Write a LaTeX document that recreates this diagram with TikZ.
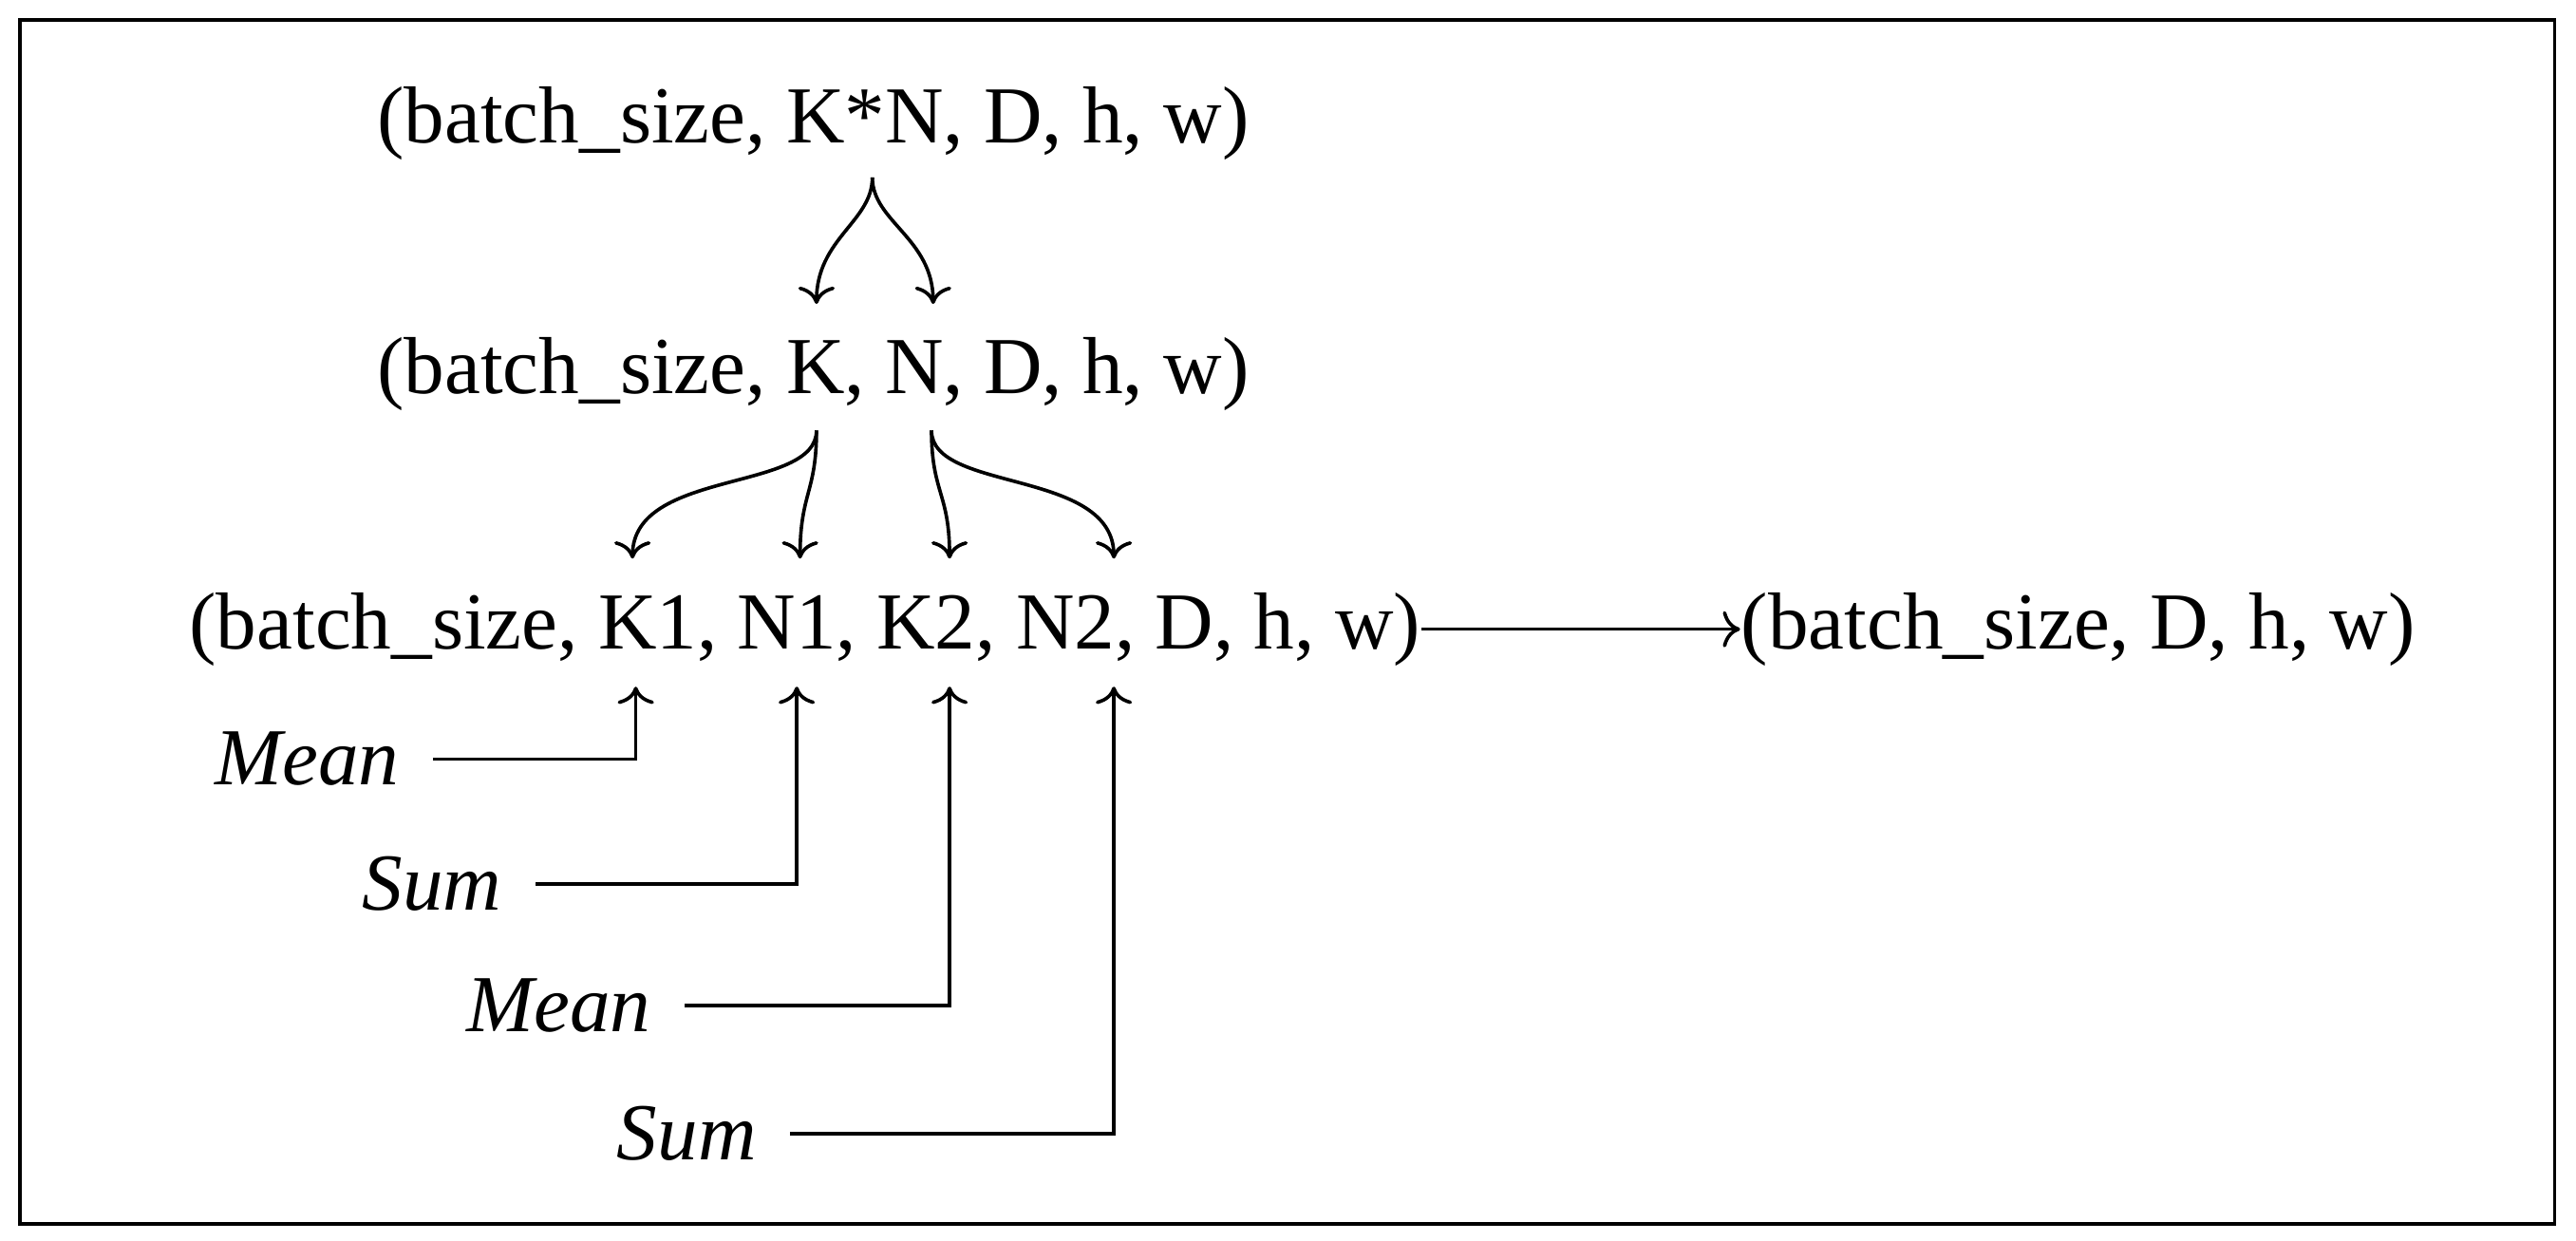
\documentclass[tikz,border=0pt]{standalone}
\usepackage{fontspec}
\setmainfont{Liberation Serif}
\usetikzlibrary{positioning, arrows.meta}
\tikzset{
  dims/.style={inner sep=0pt, font=\fontsize{14}{16}\selectfont},
  op/.style={inner sep=0pt, font=\fontsize{14}{16}\selectfont\itshape},
  arr/.style={-{To[length=3pt]}, semithick},
}
\begin{document}
\begin{tikzpicture}[x=0.01cm, y=-0.01cm]
  \draw[semithick] (12,12) rectangle (1555,745);
  \useasboundingbox (0,0) rectangle (1568,755);

  \node[dims] (KN) at (495,75) {(batch\_size, K*N, D, h, w)};
  \node[dims] (KaN) at (495,228) {(batch\_size, K, N, D, h, w)};
  \node[dims] (full) at (490,383) {(batch\_size, K1, N1, K2, N2, D, h, w)};
  \node[dims] (out) at (1265,383) {(batch\_size, D, h, w)};

  \node[op] (m1) at (187,462) {Mean};
  \node[op] (s1) at (263,538) {Sum};
  \node[op] (m2) at (340,612) {Mean};
  \node[op] (s2) at (418,690) {Sum};

  % split points
  \coordinate (top) at (531,108);
  \coordinate (K) at (497,185);
  \coordinate (N) at (568,185);
  \coordinate (Kb) at (497,262);
  \coordinate (Nb) at (567,262);
  \coordinate (K1) at (385,340);
  \coordinate (N1) at (487,340);
  \coordinate (K2) at (578,340);
  \coordinate (N2) at (678,340);
  \coordinate (K1u) at (387,418);
  \coordinate (N1u) at (485,418);
  \coordinate (K2u) at (578,418);
  \coordinate (N2u) at (678,418);

  \draw[arr] (top) .. controls (531,135) and (497,145) .. (K);
  \draw[arr] (top) .. controls (531,135) and (568,145) .. (N);
  \draw[arr] (Kb) .. controls (497,300) and (385,285) .. (K1);
  \draw[arr] (Kb) .. controls (497,300) and (487,300) .. (N1);
  \draw[arr] (Nb) .. controls (567,300) and (578,300) .. (K2);
  \draw[arr] (Nb) .. controls (567,300) and (678,285) .. (N2);
  \draw[arr] (full) -- (out);

  \draw[arr] (m1.east) ++(20,0) -| (K1u);
  \draw[arr] (s1.east) ++(20,0) -| (N1u);
  \draw[arr] (m2.east) ++(20,0) -| (K2u);
  \draw[arr] (s2.east) ++(20,0) -| (N2u);
\end{tikzpicture}
\end{document}
